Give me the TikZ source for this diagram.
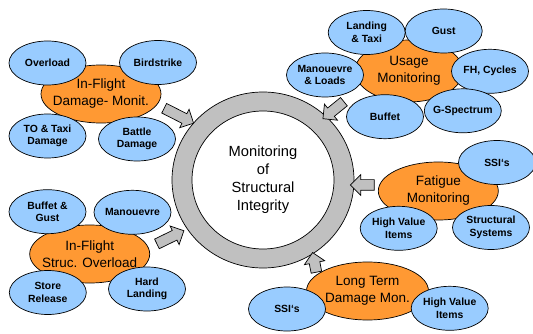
\documentclass[tikz,border=0pt]{standalone}
\usepackage{fontspec}
\setmainfont{Liberation Sans}
\usetikzlibrary{shapes.geometric,shapes.arrows}
\definecolor{skyblue}{HTML}{99CCFF}
\definecolor{amber}{HTML}{FF9933}
\definecolor{ringgray}{HTML}{C0C0C0}

\begin{document}
\begin{tikzpicture}[x=1pt, y=-1pt, line width=0.7pt,
  blob/.style={ellipse, draw, fill=skyblue, minimum width=77pt, minimum height=44pt, inner sep=-6pt, align=center, font=\bfseries\fontsize{10.4}{12.5}\selectfont},
  hub/.style={ellipse, draw, fill=amber, minimum width=120pt, minimum height=58pt, inner sep=-14pt, align=center, font=\fontsize{13.5}{17}\selectfont},
  push/.style={single arrow, draw, fill=ringgray, inner sep=5pt, single arrow head extend=5pt, minimum height=#1}]
\useasboundingbox (0,0) rectangle (533,334);
% centre ring
\node[align=center, font=\fontsize{14.7}{18}\selectfont] (core) at (263,180) {Monitoring\\of\\Structural\\Integrity};
\draw[fill=ringgray, even odd rule] (core) ellipse (91 and 88) (core) ellipse (71 and 69);
% block arrows
\node[push=33pt, rotate=-27] (a1) at (176.5,114.5) {};
\node[push=27pt, rotate=219] (a2) at (335.5,108.5) {};
\node[push=24pt, rotate=180] (a3) at (365,185) {};
\node[push=20pt, rotate=101] (a4) at (315,265) {};
\node[push=30pt, rotate=26] (a5) at (168,238.5) {};
% in-flight damage
\node[hub] (dmg) at (101,94) {In-Flight\\Damage- Monit.};
\node[blob] (dmg-1) at (47.5,63) {Overload};
\node[blob] (dmg-2) at (158,62.5) {Birdstrike};
\node[blob] (dmg-3) at (47.5,136) {TO \& Taxi\\Damage};
\node[blob] (dmg-4) at (137,139) {Battle\\Damage};
% usage
\node[hub, minimum width=108pt, minimum height=62pt] (use) at (409,71) {Usage\\Monitoring};
\node[blob] (use-1) at (366.7,32.5) {Landing\\\& Taxi};
\node[blob] (use-2) at (443.7,31) {Gust};
\node[blob] (use-3) at (325,75) {Manouevre\\\& Loads};
\node[blob] (use-4) at (490,71.3) {FH, Cycles};
\node[blob] (use-5) at (385,116.7) {Buffet};
\node[blob] (use-6) at (462.8,110.8) {G-Spectrum};
% fatigue
\node[hub] (fat) at (438.3,191) {Fatigue\\Monitoring};
\node[blob] (fat-1) at (497,162.5) {SSI‘s};
\node[blob] (fat-2) at (398.7,228.3) {High Value\\Items};
\node[blob] (fat-3) at (491,227.5) {Structural\\Systems};
% long term
\node[hub, minimum width=122pt] (ltd) at (367.5,291) {Long Term\\Damage Mon.};
\node[blob] (ltd-1) at (287,309) {SSI‘s};
\node[blob] (ltd-2) at (449.7,308.3) {High Value\\Items};
% in-flight overload
\node[hub] (ovl) at (89.7,254) {In-Flight\\Struc. Overload};
\node[blob] (ovl-1) at (47.5,211.7) {Buffet \&\\Gust};
\node[blob] (ovl-2) at (132.5,212.3) {Manouevre};
\node[blob] (ovl-3) at (47.8,292.5) {Store\\Release};
\node[blob] (ovl-4) at (147,289) {Hard\\Landing};
\end{tikzpicture}
\end{document}
